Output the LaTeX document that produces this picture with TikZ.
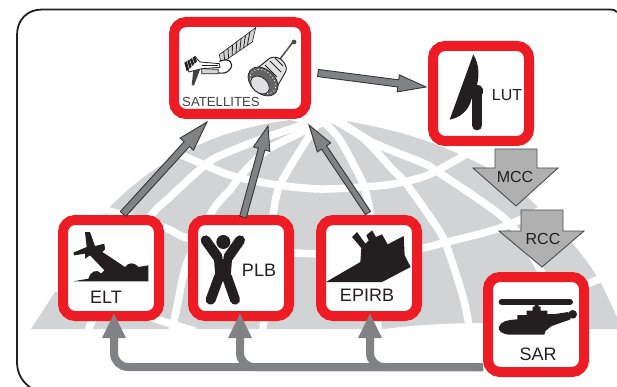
\documentclass[tikz,border=0pt]{standalone}
\usepackage{fontspec}
\setmainfont{Liberation Sans}
\usetikzlibrary{calc,arrows.meta}
\definecolor{redbox}{HTML}{ED1C24}
\definecolor{inkblack}{HTML}{231F20}
\definecolor{globegrey}{HTML}{D1D3D4}
\definecolor{arrowgrey}{HTML}{808285}
\definecolor{blockgrey}{HTML}{B0B0B0}
\definecolor{edgegrey}{HTML}{4D4D4F}
\tikzset{
  alertbox/.style={draw=redbox,fill=white,line width=10pt,rounded corners=12pt,inner sep=0pt},
  frameline/.style={draw=inkblack,line width=1.8pt},
  gridline/.style={draw=white,line width=7.5pt},
  slim/.style={draw=edgegrey!70!black,fill=arrowgrey,line width=.9pt,line join=miter},
  bus/.style={draw=arrowgrey,line width=8pt,rounded corners=14pt,-{Triangle[length=25pt,width=22pt]}},
  block/.style={draw=edgegrey,fill=blockgrey,line width=.9pt},
  lab/.style={text=inkblack,inner sep=0pt,font=\fontsize{18}{20}\selectfont},
  labm/.style={text=inkblack,inner sep=0pt,font=\fontsize{16}{18}\selectfont},
  labs/.style={text=inkblack!85,inner sep=0pt,font=\fontsize{13.2}{15}\selectfont},
  ink/.style={fill=inkblack,draw=none},
  inkstroke/.style={draw=inkblack,line cap=round},
  craft/.style={draw=inkblack,line width=.6pt,fill=white},
}
\newcommand{\slimarrow}[5]{%
  \coordinate (neck) at ($(#2)!#3pt!(#1)$);
  \draw[slim] ($(#1)!#4pt!90:(#2)$) -- ($(neck)!#4pt!90:(#2)$) -- ($(neck)!#5pt!90:(#2)$) -- (#2)
    -- ($(neck)!#5pt!-90:(#2)$) -- ($(neck)!#4pt!-90:(#2)$) -- ($(#1)!#4pt!-90:(#2)$) -- cycle;
}
\begin{document}
\begin{tikzpicture}[x=1pt,y=-1pt]
\useasboundingbox (0,0) rectangle (617,387);
% frame
\draw[frameline] (617,12) .. controls (615,10) and (613,9.5) .. (610,9.5) -- (42,9.5)
  .. controls (27,9.5) and (17,20) .. (17,35) -- (17,362) .. controls (17,373) and (22,382) .. (31,388);
% globe
\fill[globegrey] (31,329) -- (110,207) .. controls (150,165) and (210,130) .. (290,120) -- (320,128)
  -- (340,120) .. controls (390,128) and (430,140) .. (465,157)
  .. controls (500,172) and (522,192) .. (538,207)
  .. controls (560,228) and (585,255) .. (602,285) -- (617,317) -- (617,329) -- cycle;
% parallels
\draw[gridline] plot[smooth] coordinates {(172,151) (207,166) (233,176) (277,185) (320,189) (363,187) (393,184) (428,175) (470,152)};
\draw[gridline] plot[smooth] coordinates {(98,208) (163,227) (187,238) (241,248) (295,253) (340,254) (380,252) (422,248) (443,243) (500,228) (545,208)};
\draw[gridline] plot[smooth] coordinates {(46,285) (110,303) (165,322) (195,331)};
\draw[gridline] plot[smooth] coordinates {(608,276) (590,283) (560,300) (520,318) (490,330)};
\fill[white] (378,330) .. controls (410,325) and (450,323) .. (490,323) -- (490,332) -- (378,332) -- cycle;
% meridians
\draw[gridline] plot[smooth] coordinates {(88,331) (110,280) (150,217) (170,197) (197,172) (217,157) (267,137) (318,120)};
\draw[gridline] plot[smooth] coordinates {(172,331) (177,307) (187,263) (213,210) (230,190) (243,173) (267,150) (300,133) (318,122)};
\draw[gridline] plot[smooth] coordinates {(263,331) (268,270) (273,217) (278,190) (290,167) (318,122)};
\draw[gridline] plot[smooth] coordinates {(322,120) (340,140) (360,177) (365,190) (370,213) (375,270) (378,331)};
\draw[gridline] plot[smooth] coordinates {(330,118) (363,138) (393,170) (405,182) (430,217) (445,242) (463,297) (470,331)};
\draw[gridline] plot[smooth] coordinates {(335,118) (372,142) (423,163) (435,170) (505,219) (536,262) (570,331)};
% red boxes
\node[alertbox,minimum width=132pt,minimum height=92pt] (sat) at (240,68) {};
\node[alertbox,minimum width=96pt,minimum height=95pt] (lut) at (481,93.5) {};
\node[alertbox,minimum width=96pt,minimum height=96pt] (elt) at (111,268) {};
\node[alertbox,minimum width=96pt,minimum height=96pt] (plb) at (241,268) {};
\node[alertbox,minimum width=96pt,minimum height=96pt] (epirb) at (369,268) {};
\node[alertbox,minimum width=96pt,minimum height=95pt] (sar) at (536,324.5) {};
% labels
\node[labs] (tsat) at (221,102) {SATELLITES};
\node[labm] (tlut) at (507,95) {LUT};
\node[lab] (telt) at (106,297) {ELT};
\node[lab] (tplb) at (259,270) {PLB};
\node[lab] (tepirb) at (367,295) {EPIRB};
\node[lab] (tsar) at (538,354) {SAR};
% satellite 1
\begin{scope}[shift={(175,22)},scale=1/3]
  \draw[craft,fill=globegrey] (133,98) -- (242,17) -- (232,60) -- (138,124) -- cycle;
  \foreach \t in {.12,.24,.36,.48,.60,.72,.84}
    \draw[inkblack,line width=.8pt] ($(133,98)!\t!(242,17)$) -- ($(138,124)!\t!(232,60)$);
  \draw[craft,line width=1.1pt] (133,118) .. controls (165,105) and (178,125) .. (165,142)
     .. controls (155,155) and (140,155) .. (128,152);
  \draw[craft,line width=.8pt] (60,103) -- (75,120) -- (133,125) -- (135,136) -- (80,140) -- (42,150) -- (35,135) -- cycle;
  \draw[inkblack,line width=.7pt] (80,130) -- (130,130);
  \fill[inkblack] (28,122) -- (60,103) -- (66,118) -- (35,148) -- cycle;
  \foreach \t in {.25,.5,.75}
    \draw[white,line width=.4pt] ($(28,122)!\t!(60,103)$) -- ($(35,148)!\t!(66,118)$);
  \draw[craft,fill=globegrey,line width=.8pt] (80,140) -- (130,142) -- (130,155) -- (80,155) -- cycle;
  \fill[inkblack!85] (55,145) -- (75,143) -- (57,190) -- (50,190) -- cycle;
\end{scope}
% satellite 2
\draw[inkblack!80,line width=1.5pt] (280,59) -- (293,42);
\fill[inkblack!80] (294,42) circle (2.4pt);
\draw[craft,fill=globegrey!60,line width=.9pt] (250,74) -- (270,58) .. controls (280,54) and (288,65) .. (286,71) -- (273,94) -- cycle;
\foreach \a/\b/\c/\d in {255/73/266/85, 260/69/272/82, 265/65/277/77, 270/61/281/72, 275/58/283/66}
  \draw[inkblack,line width=.8pt] (\a,\b) -- (\c,\d);
\draw[inkblack,line width=.7pt,fill=inkblack!70] (263,81.5) ellipse [x radius=17pt,y radius=12pt,rotate=-42];
\draw[white,line width=.8pt,dash pattern=on 1pt off 2.5pt] (263,81.5) ellipse [x radius=14.5pt,y radius=10pt,rotate=-42];
\draw[inkblack,line width=.7pt,fill=globegrey!70] (260,85) ellipse [x radius=10.5pt,y radius=7.5pt,rotate=-42];
% LUT dish
\begin{scope}[shift={(300,0)},scale=1/3]
  \fill[inkblack] (520,163) .. controls (538,195) and (538,225) .. (531,255)
     .. controls (552,255) and (556,280) .. (540,290) -- (515,296)
     .. controls (505,335) and (480,352) .. (449,359) -- cycle;
  \draw[inkstroke,line width=10pt] (531,280) -- (531,376);
\end{scope}
% ELT plane
\begin{scope}[shift={(65,222)},scale=1/3]
  \fill[inkblack] (60,30) -- (75,30) -- (90,72) -- (118,65) -- (120,82) -- (112,90) -- (180,135)
    .. controls (190,122) and (205,118) .. (220,135) -- (250,130) -- (250,178) -- (25,178) -- (70,170)
    .. controls (75,150) and (95,138) .. (108,155) -- (118,145) -- (75,100) -- (60,110) -- (60,95)
    -- (28,100) -- (25,92) -- (65,75) -- cycle;
\end{scope}
% PLB figure
\begin{scope}[shift={(195,222)},scale=1/3]
  \fill[inkblack] (85,60) circle (21pt);
  \draw[inkstroke,line width=10pt] (32,55) -- (68,105);
  \draw[inkstroke,line width=10pt] (135,55) -- (100,105);
  \fill[inkblack] (55,88) -- (85,112) -- (113,88) -- (106,175) -- (62,175) -- cycle;
  \draw[inkstroke,line width=10pt] (72,165) -- (47,233);
  \draw[inkstroke,line width=10pt] (96,165) -- (120,233);
\end{scope}
% EPIRB ship
\begin{scope}[shift={(322,222)},scale=1/3]
  \fill[inkblack] (12,180) -- (115,120) -- (118,78) -- (90,45) -- (105,30) -- (130,65) -- (140,55)
    -- (133,40) -- (150,25) -- (162,45) -- (180,37) -- (197,67) -- (245,42) -- (248,100) -- (266,135) -- (180,180) -- cycle;
\end{scope}
% SAR helicopter
\begin{scope}[shift={(490,290)},scale=1/3]
  \draw[inkstroke,line width=6pt] (35,36) -- (240,36);
  \fill[inkblack] (134,36) -- (146,36) -- (146,50) -- (152,50) -- (152,62) -- (172,62) -- (172,72)
    -- (195,72) -- (235,66) -- (242,88) -- (185,108) -- (167,122) -- (163,134) -- (60,134)
    .. controls (35,134) and (22,120) .. (27,110) .. controls (32,95) and (50,90) .. (82,88)
    -- (82,75) -- (110,75) -- (110,62) -- (128,62) -- (128,50) -- (134,50) -- cycle;
  \fill[inkblack] (248,73) circle (13pt);
\end{scope}
% slim arrows
\coordinate (a1t) at (123,214); \coordinate (a1h) at (207,122);
\coordinate (a2t) at (243,217); \coordinate (a2h) at (268,126);
\coordinate (a3t) at (368,213); \coordinate (a3h) at (309,125);
\coordinate (a4t) at (318,73);  \coordinate (a4h) at (426,87);
\slimarrow{a1t}{a1h}{30}{3.6}{9}
\slimarrow{a2t}{a2h}{24}{3.4}{8.5}
\slimarrow{a3t}{a3h}{27}{3}{8}
\slimarrow{a4t}{a4h}{28}{3.6}{8.6}
% block arrows
\draw[block] (495,149) -- (537,149) -- (537,168) -- (558,168) -- (516,206) -- (473,168) -- (495,168) -- cycle;
\draw[block] (521,210) -- (563,210) -- (563,231) -- (584,231) -- (542,267) -- (499,231) -- (521,231) -- cycle;
\node[labm] (tmcc) at (515,177) {MCC};
\node[labm] (trcc) at (543,239) {RCC};
% bus
\coordinate (busy) at (0,367);
\coordinate (tipe) at (114,313); \coordinate (tipp) at (240,313); \coordinate (tipi) at (370,313);
\draw[bus] (sar.west |- busy) -- (tipi |- busy) -- (tipi);
\draw[bus] (sar.west |- busy) -- (tipp |- busy) -- (tipp);
\draw[bus] (sar.west |- busy) -- (tipe |- busy) -- (tipe);
\end{tikzpicture}
\end{document}
